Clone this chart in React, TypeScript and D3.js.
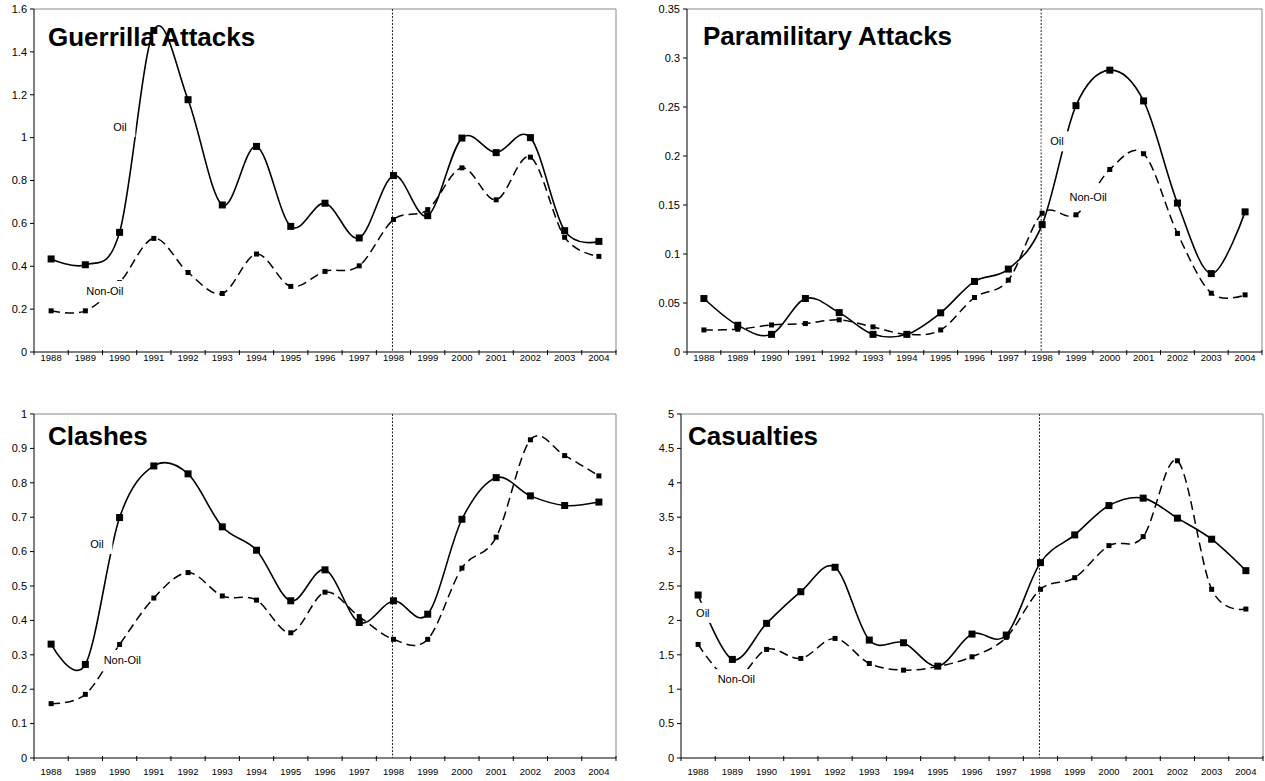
import * as d3 from 'd3'

const years = ['1988', '1989', '1990', '1991', '1992', '1993', '1994', '1995', '1996', '1997', '1998', '1999', '2000', '2001', '2002', '2003', '2004']

const guerrillaOil = [0.434, 0.407, 0.558, 1.5, 1.177, 0.686, 0.959, 0.586, 0.694, 0.532, 0.823, 0.636, 0.998, 0.93, 1.0, 0.566, 0.516]
const guerrillaNonOil = [0.192, 0.192, 0.324, 0.53, 0.371, 0.273, 0.457, 0.306, 0.376, 0.402, 0.618, 0.664, 0.859, 0.71, 0.909, 0.535, 0.446]

const paraOil = [0.0546, 0.0273, 0.018, 0.0546, 0.0402, 0.018, 0.018, 0.04, 0.072, 0.0846, 0.13, 0.2514, 0.2876, 0.2562, 0.152, 0.08, 0.143]
const paraNonOil = [0.0225, 0.0232, 0.0276, 0.029, 0.0328, 0.0256, 0.018, 0.0225, 0.0556, 0.0733, 0.1416, 0.14, 0.1863, 0.2023, 0.121, 0.06, 0.0583]

const clashOil = [0.331, 0.272, 0.699, 0.849, 0.826, 0.672, 0.604, 0.457, 0.547, 0.394, 0.457, 0.418, 0.694, 0.815, 0.762, 0.734, 0.744]
const clashNonOil = [0.158, 0.185, 0.33, 0.465, 0.539, 0.471, 0.459, 0.364, 0.482, 0.411, 0.345, 0.345, 0.552, 0.642, 0.925, 0.879, 0.82]

const casOil = [2.369, 1.433, 1.957, 2.417, 2.772, 1.714, 1.675, 1.335, 1.801, 1.787, 2.84, 3.243, 3.669, 3.777, 3.486, 3.18, 2.723]
const casNonOil = [1.651, 1.12, 1.578, 1.447, 1.738, 1.374, 1.277, 1.33, 1.471, 1.753, 2.452, 2.621, 3.087, 3.218, 4.32, 2.452, 2.165]

const breakYear = '1998'

type Label = { text: string; i: number; v: number }

type Panel = {
  title: string
  oil: number[]
  nonOil: number[]
  max: number
  step: number
  labels: Label[]
  // layout
  x0: number
  x1: number
  y0: number
  y1: number
  titleX: number
  titleY: number
  xLabelDy: number
}

const panels: Panel[] = [
  {
    title: 'Guerrilla Attacks', oil: guerrillaOil, nonOil: guerrillaNonOil, max: 1.6, step: 0.2,
    labels: [{ text: 'Oil', i: 2.01, v: 1.05 }, { text: 'Non-Oil', i: 1.57, v: 0.285 }],
    x0: 34, x1: 616, y0: 9, y1: 352, titleX: 48, titleY: 46, xLabelDy: 9,
  },
  {
    title: 'Paramilitary Attacks', oil: paraOil, nonOil: paraNonOil, max: 0.35, step: 0.05,
    labels: [{ text: 'Oil', i: 10.44, v: 0.215 }, { text: 'Non-Oil', i: 11.36, v: 0.158 }],
    x0: 687, x1: 1262, y0: 9, y1: 352, titleX: 703, titleY: 45, xLabelDy: 9,
  },
  {
    title: 'Clashes', oil: clashOil, nonOil: clashNonOil, max: 1, step: 0.1,
    labels: [{ text: 'Oil', i: 1.34, v: 0.622 }, { text: 'Non-Oil', i: 2.08, v: 0.285 }],
    x0: 34, x1: 616, y0: 414, y1: 758, titleX: 48, titleY: 445, xLabelDy: 17,
  },
  {
    title: 'Casualties', oil: casOil, nonOil: casNonOil, max: 5, step: 0.5,
    labels: [{ text: 'Oil', i: 0.137, v: 2.11 }, { text: 'Non-Oil', i: 1.115, v: 1.146 }],
    x0: 681, x1: 1263, y0: 414, y1: 758, titleX: 688, titleY: 445, xLabelDy: 17,
  },
]

const font = 'Arial, "Liberation Sans", Helvetica, sans-serif'

function PanelChart({ p }: { p: Panel }) {
  const x = d3.scaleBand(years, [p.x0, p.x1]).padding(0)
  const bw = x.bandwidth()
  const cx = (i: number) => p.x0 + (i + 0.5) * bw
  const y = d3.scaleLinear([0, p.max], [p.y1, p.y0])
  const yTicks = d3.range(0, p.max + p.step / 2, p.step)
  const line = d3
    .line<number>()
    .x((d, i) => cx(i))
    .y((d) => y(d))
    .curve(d3.curveCardinal.tension(0))
  const bx = (x(breakYear) ?? 0) + bw / 2 - 1

  return (
    <g fontFamily={font}>
      {/* frame */}
      <path d={`M${p.x0},${p.y0}H${p.x1}V${p.y1}`} fill="none" stroke="#888" strokeWidth={1} />
      <line x1={p.x0} x2={p.x0} y1={p.y0} y2={p.y1} stroke="#000" />
      <line x1={p.x0} x2={p.x1} y1={p.y1} y2={p.y1} stroke="#000" />
      {/* y ticks */}
      {yTicks.map((t) => (
        <g key={t}>
          <line x1={p.x0 - 4} x2={p.x0} y1={y(t)} y2={y(t)} stroke="#000" />
          <text x={p.x0 - 7} y={y(t)} dy="0.35em" textAnchor="end" fontSize={11} fill="#000">
            {+t.toFixed(2)}
          </text>
        </g>
      ))}
      {/* x ticks */}
      {years.map((yr, i) => (
        <g key={yr}>
          <line x1={x(yr)! + bw} x2={x(yr)! + bw} y1={p.y1 - 2} y2={p.y1 + 3} stroke="#000" />
          <text x={cx(i)} y={p.y1 + p.xLabelDy} textAnchor="middle" fontSize={9.5} fill="#000">
            {yr}
          </text>
        </g>
      ))}
      <line x1={p.x0} x2={p.x0} y1={p.y1} y2={p.y1 + 3} stroke="#000" />
      {/* break line */}
      <line x1={bx} x2={bx} y1={p.y0} y2={p.y1} stroke="#222" strokeWidth={1} strokeDasharray="2 1.5" />
      {/* series */}
      <path d={line(p.nonOil) ?? undefined} fill="none" stroke="#000" strokeWidth={1.5} strokeDasharray="9 5" />
      <path d={line(p.oil) ?? undefined} fill="none" stroke="#000" strokeWidth={1.6} />
      {p.nonOil.map((d, i) => (
        <rect key={'n' + i} x={cx(i) - 2.5} y={y(d) - 2.5} width={5} height={5} fill="#000" />
      ))}
      {p.oil.map((d, i) => (
        <rect key={'o' + i} x={cx(i) - 3.5} y={y(d) - 3.5} width={7} height={7} fill="#000" />
      ))}
      {/* labels */}
      {p.labels.map((l) => {
        const w = l.text.length * 5.6 + 14
        return (
          <g key={l.text}>
            <rect x={cx(l.i) - w / 2} y={y(l.v) - 10} width={w} height={20} fill="#fff" />
            <text x={cx(l.i)} y={y(l.v)} dy="0.35em" textAnchor="middle" fontSize={11} fill="#000">
              {l.text}
            </text>
          </g>
        )
      })}
      <text x={p.titleX} y={p.titleY} fontSize={26} fontWeight="bold" fill="#000">
        {p.title}
      </text>
    </g>
  )
}

export default function App() {
  return (
    <svg
      width={1265}
      height={781}
      style={{ position: 'absolute', left: 0, top: 0, background: '#fff' }}
    >
      <rect width={1265} height={781} fill="#fff" />
      {panels.map((p) => (
        <PanelChart key={p.title} p={p} />
      ))}
    </svg>
  )
}
